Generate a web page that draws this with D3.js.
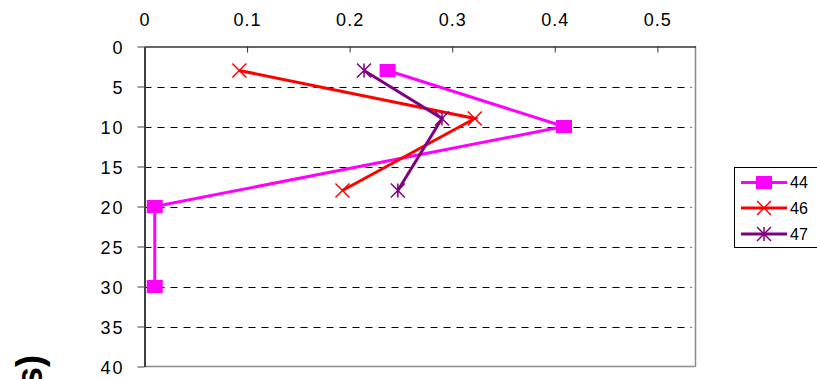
<!DOCTYPE html>
<html>
<head>
<meta charset="utf-8">
<script src="https://cdn.jsdelivr.net/npm/d3@7"></script>
<style>
html,body{margin:0;padding:0;background:#fff;}
svg{display:block;font-family:"Liberation Sans",Arial,sans-serif;}
</style>
</head>
<body>
<svg id="chart" width="817" height="379"></svg>
<script>
// ---- data ----
const xTicks = [0, 0.1, 0.2, 0.3, 0.4, 0.5];
const yTicks = [0, 5, 10, 15, 20, 25, 30, 35, 40];
const seriesNames = ["44", "46", "47"];
const depth44 = [3, 10, 20, 30];
const value44 = [0.237, 0.409, 0.01, 0.01];
const depth46 = [3, 9, 18];
const value46 = [0.0925, 0.322, 0.193];
const depth47 = [3, 9, 18];
const value47 = [0.214, 0.29, 0.247];
const axisTitle = "Depth (inches)";

(function () {
const svg = d3.select("#chart");
const pL = 144.5, pR = 695.5, pT = 46.5, pB = 366.5;
const x = d3.scaleLinear().domain([0, 0.5372]).range([pL, pR]);
const y = d3.scaleLinear().domain([0, 40]).range([pT, pB]);

// gridlines
svg.append("g").selectAll("line").data(yTicks.filter(d => d > 0 && d < 40)).join("line")
  .attr("x1", pL).attr("x2", pR - 4)
  .attr("y1", d => Math.round(y(d)) + 0.5).attr("y2", d => Math.round(y(d)) + 0.5)
  .attr("stroke", "#000").attr("stroke-width", 1).attr("stroke-dasharray", "7,6");

// plot border (right, bottom)
svg.append("line").attr("x1", pR).attr("x2", pR).attr("y1", pT).attr("y2", pB)
  .attr("stroke", "#8a8a8a").attr("stroke-width", 1.5);
svg.append("line").attr("x1", pL).attr("x2", pR).attr("y1", pB).attr("y2", pB)
  .attr("stroke", "#8a8a8a").attr("stroke-width", 1.5);

// top x axis
const xAxis = d3.axisTop(x).tickValues(xTicks).tickSize(-6).tickSizeOuter(0)
  .tickFormat(d => d === 0 ? "0" : d3.format(".1f")(d));
const gx = svg.append("g").attr("transform", `translate(0,${pT})`).call(xAxis);
gx.select(".domain").attr("stroke", "#333").attr("stroke-width", 1.5);
gx.selectAll(".tick line").attr("stroke", "#333");
gx.selectAll(".tick text").attr("y", -21).attr("dy", "0").attr("font-size", 18)
  .attr("fill", "#000").attr("font-family", "Liberation Sans, Arial, sans-serif")
  .style("letter-spacing", "1px");

// left y axis
const yAxis = d3.axisLeft(y).tickValues(yTicks).tickSize(7).tickSizeOuter(0);
const gy = svg.append("g").attr("transform", `translate(${pL},0)`).call(yAxis);
gy.select(".domain").attr("stroke", "#404040").attr("stroke-width", 2);
gy.selectAll(".tick line").attr("stroke", "#404040");
gy.selectAll(".tick text").attr("x", -20).attr("dy", "0.4em").attr("font-size", 18)
  .attr("fill", "#000").attr("font-family", "Liberation Sans, Arial, sans-serif")
  .style("letter-spacing", "2px");

// axis title (cut off at the bottom edge, as in the reference)
svg.append("text").attr("transform", "translate(42,355) rotate(-90)")
  .attr("text-anchor", "end").attr("font-size", 36).attr("font-weight", "bold")
  .attr("fill", "#000").text(axisTitle);

// series
const series = [
  {name: seriesNames[0], depth: depth44, value: value44, color: "#ff00ff", marker: "square"},
  {name: seriesNames[1], depth: depth46, value: value46, color: "#ff0000", marker: "x"},
  {name: seriesNames[2], depth: depth47, value: value47, color: "#800080", marker: "star"}
];

function drawMarker(g, type, cx, cy, color) {
  if (type === "square") {
    g.append("rect").attr("x", cx - 8).attr("y", cy - 6.5).attr("width", 16).attr("height", 13).attr("fill", color);
  } else if (type === "x") {
    const h = 7;
    g.append("path").attr("d", `M${cx-h},${cy-h}L${cx+h},${cy+h}M${cx-h},${cy+h}L${cx+h},${cy-h}`)
      .attr("stroke", color).attr("stroke-width", 1.5).attr("fill", "none");
  } else {
    const h = 7;
    g.append("path").attr("d", `M${cx-h},${cy-h}L${cx+h},${cy+h}M${cx-h},${cy+h}L${cx+h},${cy-h}M${cx},${cy-h}L${cx},${cy+h}`)
      .attr("stroke", color).attr("stroke-width", 1.5).attr("fill", "none");
  }
}

const line = d3.line().x(d => x(d[0])).y(d => y(d[1]));
series.forEach(s => {
  const pts = s.value.map((v, i) => [v, s.depth[i]]);
  svg.append("path").datum(pts).attr("d", line).attr("fill", "none")
    .attr("stroke", s.color).attr("stroke-width", 3);
  const g = svg.append("g");
  pts.forEach(p => drawMarker(g, s.marker, x(p[0]), y(p[1]), s.color));
});

// legend
const lg = svg.append("g");
lg.append("rect").attr("x", 734.5).attr("y", 167.5).attr("width", 90).attr("height", 80)
  .attr("fill", "#fff").attr("stroke", "#000").attr("stroke-width", 1);
const ly = [182.5, 208, 234];
series.forEach((s, i) => {
  lg.append("line").attr("x1", 741).attr("x2", 787).attr("y1", ly[i]).attr("y2", ly[i])
    .attr("stroke", s.color).attr("stroke-width", 3);
  drawMarker(lg, s.marker, 764, ly[i], s.color);
  lg.append("text").attr("x", 790).attr("y", ly[i]).attr("dy", "0.36em")
    .attr("font-size", 16).attr("fill", "#000").text(s.name);
});
})();
</script>
</body>
</html>
